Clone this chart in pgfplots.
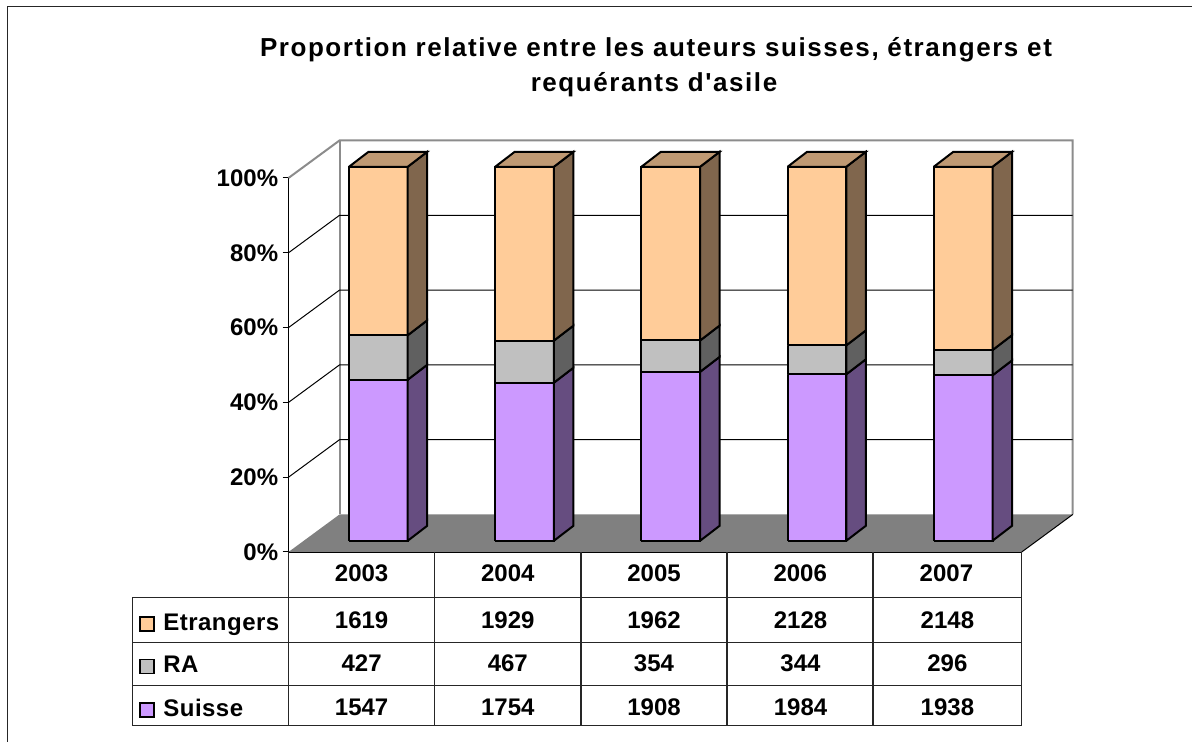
\documentclass[border=0pt]{standalone}
\usepackage{fontspec}
\setmainfont{Liberation Sans}
\newfontfamily\titlef[Ligatures=ResetAll,LetterSpace=6]{Liberation Sans}
\usepackage{pgfplots}
\pgfplotsset{compat=1.18}
\definecolor{suisseF}{HTML}{CC99FF}\definecolor{suisseS}{HTML}{664D80}
\definecolor{raF}{HTML}{C0C0C0}\definecolor{raS}{HTML}{606060}
\definecolor{etrF}{HTML}{FFCC99}\definecolor{etrS}{HTML}{80664D}\definecolor{etrT}{HTML}{BF9973}
\definecolor{wallgray}{HTML}{8C8C8C}\definecolor{floorgray}{HTML}{808080}
\newcommand{\seg}[5]{% i, y0, y1, front, side
  \pgfmathsetmacro{\xa}{#1-0.0862}\pgfmathsetmacro{\xb}{#1+0.3153}\pgfmathsetmacro{\xc}{#1+0.4487}
  \pgfmathsetmacro{\ya}{#2+3.0}\pgfmathsetmacro{\yb}{#3+3.0}\pgfmathsetmacro{\yc}{#2+7.0}\pgfmathsetmacro{\yd}{#3+7.0}
  \addplot[draw=black,line width=1pt,fill=#4,line join=miter] coordinates {(\xa,\ya) (\xb,\ya) (\xb,\yb) (\xa,\yb) (\xa,\ya)};
  \addplot[draw=black,line width=1pt,fill=#5,line join=miter] coordinates {(\xb,\ya) (\xc,\yc) (\xc,\yd) (\xb,\yb) (\xb,\ya)};
}
\newcommand{\toptop}[1]{%
  \pgfmathsetmacro{\xa}{#1-0.0862}\pgfmathsetmacro{\xb}{#1+0.3153}\pgfmathsetmacro{\xc}{#1+0.4487}\pgfmathsetmacro{\xd}{#1+0.0472}
  \addplot[draw=black,line width=1pt,fill=etrT,line join=miter] coordinates {(\xa,103) (\xb,103) (\xc,107) (\xd,107) (\xa,103)};
}
\newcommand{\stackbar}[3]{% i, top of Suisse, top of RA (percent)
  \seg{#1}{0}{#2}{suisseF}{suisseS}
  \seg{#1}{#2}{#3}{raF}{raS}
  \seg{#1}{#3}{100}{etrF}{etrS}
  \toptop{#1}
}
\newcommand{\gridl}[1]{%
  \pgfmathsetmacro{\ya}{#1+10.03}
  \addplot[black,line width=0.5pt] coordinates {(-0.5,#1) (-0.151,\ya) (4.864,\ya)};
}
\begin{document}
\begin{tikzpicture}
\path[use as bounding box] (0,0) rectangle (596pt,371pt);
\begin{axis}[
  at={(144.25pt,95pt)},anchor=south west,
  scale only axis,width=366.6pt,height=187pt,
  xmin=-0.5,xmax=4.515,ymin=0,ymax=100,clip=false,
  axis x line*=bottom,axis y line*=left,
  axis line style={black,line width=0.75pt,-},
  xtick={0,1,2,3,4},xticklabels={2003,2004,2005,2006,2007},
  ytick={0,20,40,60,80,100},yticklabels={0\%,20\%,40\%,60\%,80\%,100\%},
  major tick length=3pt,
  tick style={black,line width=0.5pt},
  xtick style={draw=none},
  ytick align=outside,
  tick label style={font=\fontsize{12}{14}\bfseries\selectfont},
  xticklabel style={anchor=base,yshift=-15pt,inner sep=0pt},
  yticklabel style={inner sep=0pt,xshift=-2pt},
]
% walls
\addplot[draw=wallgray,line width=1pt] coordinates {(-0.5,100) (-0.151,110.03) (4.864,110.03) (4.864,10.03)};
\addplot[draw=wallgray,line width=1pt] coordinates {(-0.151,110.03) (-0.151,10.03)};
\gridl{20}\gridl{40}\gridl{60}\gridl{80}
% floor
\addplot[draw=none,fill=floorgray] coordinates {(-0.5,0) (-0.151,10.03) (4.864,10.03) (4.515,0) (-0.5,0)};
\addplot[black,line width=0.5pt] coordinates {(4.515,0) (4.864,10.03)};
% bars
\stackbar{0}{43.06}{54.94}
\stackbar{1}{42.27}{53.52}
\stackbar{2}{45.17}{53.55}
\stackbar{3}{44.52}{52.24}
\stackbar{4}{44.23}{50.98}
\end{axis}
\begin{scope}[shift={(0,371pt)},x=0.5pt,y=-0.5pt]
% outer frame
\draw[line width=0.75pt,black!85] (7.5,742) -- (7.5,6.5) -- (1192,6.5);
% title
\node[font=\titlef\fontsize{13}{15}\bfseries\selectfont,anchor=base] at (656,57) {Proportion relative entre les auteurs suisses, étrangers et};
\node[font=\titlef\fontsize{13}{15}\bfseries\selectfont,anchor=base] at (654,92) {requérants d'asile};
% table
\draw[line width=0.6pt,black!85] (132.7,597.3) -- (1021.7,597.3);
\draw[line width=0.6pt,black!85] (132.7,642.3) -- (1021.7,642.3);
\draw[line width=0.6pt,black!85] (132.7,685.3) -- (1021.7,685.3);
\draw[line width=0.6pt,black!85] (132.7,725.7) -- (1021.7,725.7);
\draw[line width=0.6pt,black!85] (132.7,597.3) -- (132.7,725.7);
\foreach \xx in {288.5,434.7,581,727,873,1021.7}{\draw[line width=0.6pt,black!85] (\xx,552) -- (\xx,725.7);}
% keys
\foreach \yy/\kc in {624/etrF,666.7/raF,710/suisseF}{
  \draw[black,line width=0.6pt,fill=\kc] (140,\yy-7) rectangle (154,\yy+7);}
\foreach \yy/\lab in {630.7/Etrangers,673/RA,716.7/Suisse}{
  \node[font=\fontsize{12}{14}\bfseries\selectfont,anchor=base west,inner sep=0pt] at (163,\yy) {\addfontfeature{LetterSpace=2}\lab};}
% values
\foreach \xcol/\va/\vb/\vc in {361.6/1619/427/1547,507.8/1929/467/1754,654/1962/354/1908,800.5/2128/344/1984,947.4/2148/296/1938}{
  \node[font=\fontsize{12}{14}\bfseries\selectfont,anchor=base] at (\xcol,629) {\va};
  \node[font=\fontsize{12}{14}\bfseries\selectfont,anchor=base] at (\xcol,672) {\vb};
  \node[font=\fontsize{12}{14}\bfseries\selectfont,anchor=base] at (\xcol,715.7) {\vc};
}
\end{scope}
\end{tikzpicture}
\end{document}
